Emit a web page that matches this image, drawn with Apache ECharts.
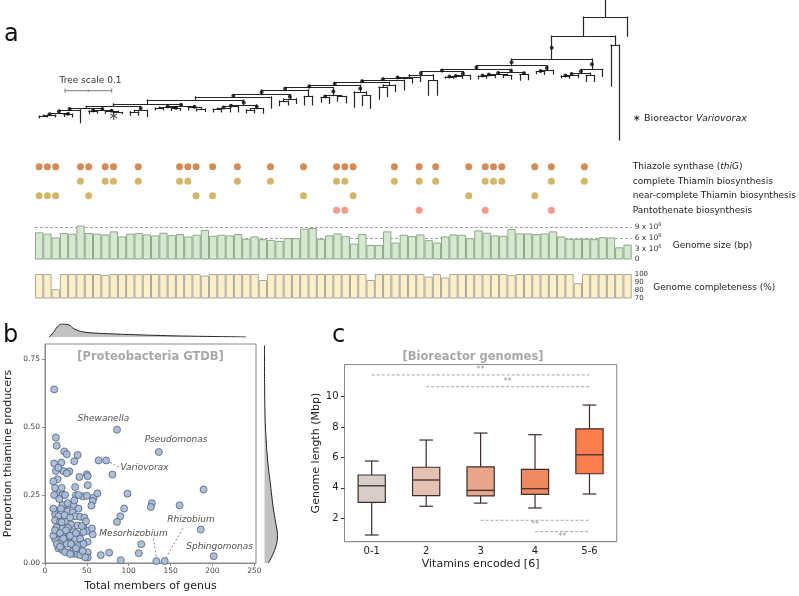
<!DOCTYPE html>
<html>
<head>
<meta charset="utf-8">
<script src="https://cdn.jsdelivr.net/npm/echarts@6/dist/echarts.min.js"></script>
<style>
  html, body { margin: 0; padding: 0; background: #fff; }
  #chart { width: 799px; height: 596px; }
</style>
</head>
<body>
<div id="chart"></div>
<script>
// ---- panel a: tree, node = [height, supported, ...children], leaf = tip height
const cladeBase = [0.206, 1, [0.210, 1, [0.212, 0, 0.216, 0.214], 0.214], [0.208, 1, 0.213, 0.214]];
const cladeStar = [0.199, 1, [0.201, 1, 0.207, 0.206], [0.202, 1, 0.206, [0.204, 0, 0.207, 0.207]]];
const clade14 = [0.190, 1, [0.193, 1, [0.195, 0, 0.199, 0.199], [0.196, 1, 0.200, 0.200]], [0.194, 1, 0.199, [0.197, 0, 0.201, 0.202]]];
const clade21 = [0.188, 1, [0.192, 1, [0.195, 1, [0.197, 0, 0.203, 0.203], 0.203], 0.203], [0.196, 1, [0.199, 0, 0.205, 0.205], 0.206]];
const spineLow = [0.178, 0, [0.186, 0, [0.191, 0, [0.195, 0, [0.199, 1, cladeBase, 0.226], cladeStar],
  [0.200, 1, [0.203, 0, 0.210, 0.210], 0.213]], clade14], clade21];
const spineMid = [0.140, 1, [0.146, 1, [0.151, 1, [0.156, 1, [0.166, 1, [0.171, 1, spineLow, 0.195],
  [0.175, 1, [0.180, 0, 0.190, 0.188], 0.185]], [0.170, 0, 0.188, 0.188]],
  [0.168, 1, [0.172, 1, 0.182, 0.185], [0.170, 0, 0.180, 0.184]]],
  [0.160, 1, 0.193, [0.168, 0, 0.190, 0.195]]], [0.146, 0, [0.150, 0, 0.176, 0.170], 0.160]];
const spineHigh = [0.117, 1, [0.124, 1, [0.128, 0, [0.131, 1, [0.135, 1, spineMid, 0.156], 0.141], 0.138],
  [0.136, 0, 0.167, 0.167]], [0.125, 1, [0.127, 1, [0.128, 1, 0.131, 0.131], 0.131], 0.133]];
const cladeH = [0.118, 1, [0.122, 1, [0.124, 1, [0.126, 1, 0.132, 0.131], 0.130], [0.125, 0, 0.129, 0.133]], [0.123, 1, 0.135, 0.134]];
const cladeE = [0.112, 1, [0.120, 1, [0.124, 1, [0.126, 1, 0.130, 0.131], 0.130], [0.125, 0, 0.138, 0.138]], 0.127];
const tree = [0, 0, [0.041, 0, [0.090, 1, [0.104, 1, [0.112, 1, spineHigh, cladeH],
  [0.114, 1, [0.117, 1, 0.121, 0.123], 0.122]], cladeE], [0.060, 0, 0.148, 0.263]], 0.041];
const bioreactorLeaf = 9;

// ---- panel a: traits per genome column
const traitRows = ['Thiazole synthase ({i|thiG})', 'complete Thiamin biosynthesis',
  'near-complete Thiamin biosynthesis', 'Pantothenate biosynthesis'];
const thiG = [0,1,2,5,6,8,9,12,17,18,19,21,24,28,32,36,37,38,43,46,48,52,54,55,56,60,62,66];
const thiaminComplete = [5,8,9,12,17,18,24,28,36,37,43,46,48,54,55,56,62,66];
const thiaminNear = [0,1,2,6,19,21,32,38,52,60];
const pantothenate = [36,37,46,54,62];
const genomeSizeMbp = [7.58,7.2,6.16,7.39,7.2,9.47,7.39,7.2,7.0,7.86,6.44,7.2,7.39,7.0,6.72,7.48,6.82,7.1,6.44,6.91,
  8.24,6.63,6.91,6.72,7.1,5.78,6.44,5.68,5.49,5.21,5.97,5.97,8.62,8.81,5.78,6.72,7.29,6.53,4.45,7.1,
  4.07,4.07,7.86,4.73,6.91,6.53,7.0,5.4,4.73,6.44,7.0,6.91,5.97,8.14,7.48,6.72,6.63,8.52,7.29,7.29,
  7.1,7.29,7.86,6.44,5.78,5.78,5.78,5.68,6.25,6.16,3.41,4.17];
const completeness = [100,100,81,100,100,100,100,100,99,100, 100,100,100,100,100,100,100,100,100,100,
  98,100,100,100,100,100,100,92.5,100,100, 100,100,100,100,100,100,100,100,100,100,
  92.5,100,100,100,100,100,100,96.8,100,95.6, 100,100,100,100,100,100,100,98.5,100,100,
  100,100,100,100,100,88.5,100,100,100,100, 100,100];

// ---- panel b
const genusPoints = [
  [11,0.638],[86,0.49],[136,0.408],[13,0.461],[14,0.431],[23,0.41],[26,0.40],[39,0.397],
  [35,0.374],[64,0.377],[73,0.377],[11,0.366],[19.5,0.369],[13,0.338],[22,0.338],[29,0.337],
  [80.5,0.325],[41,0.316],[50,0.326],[51,0.319],[15,0.308],[12,0.276],[20,0.276],[36,0.279],
  [51,0.286],[14,0.251],[21,0.251],[37,0.249],[45,0.245],[50,0.247],[58,0.24],[62.6,0.256],
  [98.5,0.255],[57,0.228],[55.4,0.211],[21,0.213],[28,0.213],[34,0.214],[13,0.191],[19,0.2],
  [27,0.19],[33,0.186],[12,0.18],[16,0.172],[23.5,0.176],[36,0.172],[42,0.17],[47,0.167],
  [94.5,0.2],[90,0.172],[86,0.151],[12,0.157],[18,0.152],[25.5,0.152],[31,0.142],[39,0.138],
  [46,0.132],[51,0.118],[57,0.105],[56,0.127],[13.6,0.13],[21,0.127],[27.5,0.129],[34,0.114],
  [41,0.105],[46,0.114],[15,0.108],[21,0.1],[29,0.096],[35.5,0.091],[42,0.089],[51,0.078],
  [43.5,0.067],[12,0.087],[17.5,0.074],[26,0.071],[33,0.064],[39.5,0.063],[16,0.054],[21,0.047],
  [28,0.039],[34,0.034],[39,0.032],[42,0.029],[51,0.039],[51,0.02],[66.6,0.029],[76.6,0.038],
  [90.5,0.01],[112,0.036],[115,0.069],[127.6,0.22],[126.4,0.206],[160.7,0.212],[189.4,0.27],
  [186,0.123],[201.4,0.025],[133,0.007],[143,0.007],
  [10,0.1],[10,0.2],[11,0.25],[10,0.3],[12,0.12],[14,0.07],[18,0.11],[24,0.04],[30,0.033],
  [25,0.12],[30,0.167],[20,0.15],[17,0.235],[24,0.25],[16,0.35],[26,0.33],[18,0.06],[22,0.09],
  [31,0.07],[37,0.054],[45,0.044],[48,0.021],[27,0.22],[40,0.25],[30,0.1],[37,0.11],[44,0.136],
  [49,0.153],[40,0.2],[35,0.23],[46,0.07]
];
const genusLabels = [['Shewanella', 69.7, 0.532], ['Pseudomonas', 156.5, 0.452], ['Variovorax', 118.9, 0.35],
  ['Rhizobium', 174.4, 0.158], ['Mesorhizobium', 105.7, 0.109], ['Sphingomonas', 208.5, 0.06]];
const labelLeaders = [[[77.7, 0.37], [89.7, 0.351]], [[129.5, 0.09], [133.5, 0.012]], [[164.6, 0.127], [143.4, 0.013]]];
const sizeDensity = [[5,0],[10,0.35],[15,0.8],[20,1.0],[28,0.95],[35,0.62],[45,0.4],[60,0.3],[80,0.24],
  [100,0.19],[130,0.13],[160,0.08],[200,0.04],[240,0.0]];
const proportionSteps = ['0.00','0.05','0.10','0.15','0.20','0.25','0.30','0.35','0.40','0.45','0.50',
  '0.55','0.60','0.65','0.70','0.75','0.80'];
const proportionDensity = [0.3,0.8,1.0,0.85,0.68,0.55,0.43,0.3,0.2,0.13,0.07,0.04,0.02,0.01,0,0,0];

// ---- panel c
const vitaminGroups = ['0-1', '2', '3', '4', '5-6'];
const genomeLengthBoxes = [ // low, q1, median, q3, high
  [0.9, 3.05, 4.14, 4.85, 5.77],
  [2.79, 3.49, 4.52, 5.36, 7.15],
  [3.0, 3.47, 3.84, 5.38, 7.61],
  [2.68, 3.58, 3.95, 5.22, 7.5],
  [3.6, 4.93, 6.18, 7.89, 9.45]
];
const boxColors = ['#d9cdc9', '#e5c1b4', '#e8a68d', '#ef8961', '#fc7e4d'];
const significance = [[0, 4, 11.43, 1], [1, 4, 10.66, 1], [2, 4, 1.87, -1], [3, 4, 1.12, -1]];

// tree layout: leaves take columns in order, parents sit between first and last child
const treeSegments = [], treeNodeDots = [], tipDepths = [];
let nextLeaf = 0;
function placeNode(node, parentDepth) {
  if (typeof node === 'number') {
    const x = nextLeaf++;
    tipDepths[x] = node;
    treeSegments.push({coords: [[x, parentDepth], [x, node]]});
    return x;
  }
  const [depth, supported, ...kids] = node;
  const xs = kids.map(k => placeNode(k, depth));
  const x = (xs[0] + xs[xs.length - 1]) / 2;
  treeSegments.push({coords: [[xs[0], depth], [xs[xs.length - 1], depth]]});
  treeSegments.push({coords: [[x, parentDepth], [x, depth]]});
  if (supported) treeNodeDots.push([x, (parentDepth + depth) / 2]);
  return x;
}
placeNode(tree, -0.035);

const columns = genomeSizeMbp.map((_, i) => String(i));
const FONT = 'DejaVu Sans';
const colW = 596.7;

function traitSeries(cols, row, color) {
  return {type: 'scatter', xAxisIndex: 1, yAxisIndex: 1, symbolSize: 7, silent: true,
    itemStyle: {color: color}, data: cols.map(c => [c, row])};
}
function hiddenValue(grid, min, max, inverse) {
  return {gridIndex: grid, type: 'value', min: min, max: max, inverse: !!inverse, show: false};
}

const chart = echarts.init(document.getElementById('chart'), null, {renderer: 'canvas'});
chart.setOption({
  animation: false,
  textStyle: {fontFamily: FONT},
  grid: [
    {left: 35, top: 0.7, width: colW, height: 147.1},
    {left: 35, top: 159.5, width: colW, height: 58},
    {left: 35, top: 225.5, width: colW, height: 34},
    {left: 35, top: 274, width: colW, height: 24},
    {left: 45, top: 344, width: 211, height: 219, show: true, borderColor: '#8a8a8a', borderWidth: 1},
    {left: 45, top: 324, width: 211, height: 13},
    {left: 264.5, top: 345.4, width: 13, height: 217.6},
    {left: 344.5, top: 364.5, width: 272.2, height: 177.2, show: true, borderColor: '#8a8a8a', borderWidth: 1}
  ],
  xAxis: [
    hiddenValue(0, -0.5, 71.5),
    hiddenValue(1, -0.5, 71.5),
    {gridIndex: 2, type: 'category', data: columns, show: false},
    {gridIndex: 3, type: 'category', data: columns, show: false},
    {gridIndex: 4, type: 'value', min: 0, max: 252,
      axisLine: {show: true, lineStyle: {color: '#8a8a8a'}},
      axisTick: {show: true, length: 3, customValues: [0, 50, 100, 150, 200, 250], lineStyle: {color: '#8a8a8a'}},
      axisLabel: {customValues: [0, 50, 100, 150, 200, 250], fontSize: 7.5, color: '#444', margin: 4},
      splitLine: {show: false},
      name: 'Total members of genus', nameLocation: 'middle', nameGap: 18,
      nameTextStyle: {fontSize: 11, color: '#222'}},
    hiddenValue(5, 0, 252),
    hiddenValue(6, 0, 1),
    {gridIndex: 7, type: 'category', data: vitaminGroups,
      axisLine: {lineStyle: {color: '#8a8a8a'}},
      axisTick: {alignWithLabel: true, length: 3.5, lineStyle: {color: '#333'}},
      axisLabel: {fontSize: 10, color: '#222', margin: 5},
      name: 'Vitamins encoded [6]', nameLocation: 'middle', nameGap: 17,
      nameTextStyle: {fontSize: 11, color: '#222'}},
    hiddenValue(2, -0.5, 71.5)
  ],
  yAxis: [
    hiddenValue(0, -0.035, 0.28, true),
    {gridIndex: 1, type: 'category', data: traitRows, inverse: true, position: 'right',
      axisLine: {show: false}, axisTick: {show: false}, splitLine: {show: false},
      axisLabel: {margin: 3, fontSize: 9, color: '#222',
        rich: {i: {fontStyle: 'italic', fontSize: 9, color: '#222'}}}},
    {gridIndex: 2, type: 'value', min: 0, max: 9.5e6, interval: 3e6, position: 'right',
      axisLine: {show: false}, axisTick: {show: false}, splitLine: {show: false},
      axisLabel: {margin: 3, fontSize: 7.5, color: '#333',
        formatter: v => v % 3e6 ? '' : (v === 0 ? '0' : (v / 1e6) + ' x 10{s|6}'),
        rich: {s: {fontSize: 5, verticalAlign: 'top', color: '#333', padding: [0, 0, 5, 0]}}}},
    {gridIndex: 3, type: 'value', min: 70, max: 100, interval: 10, position: 'right',
      axisLine: {show: false}, axisTick: {show: false}, splitLine: {show: false},
      axisLabel: {margin: 3, fontSize: 7, color: '#333'}},
    {gridIndex: 4, type: 'value', min: 0, max: 0.805,
      axisLine: {show: true, lineStyle: {color: '#8a8a8a'}},
      axisTick: {show: true, length: 3, customValues: [0, 0.25, 0.5, 0.75], lineStyle: {color: '#8a8a8a'}},
      axisLabel: {customValues: [0, 0.25, 0.5, 0.75], fontSize: 7.5, color: '#444', margin: 5,
        formatter: v => v.toFixed(2)},
      splitLine: {show: false},
      name: 'Proportion thiamine producers', nameLocation: 'middle', nameGap: 31,
      nameTextStyle: {fontSize: 11, color: '#222'}},
    hiddenValue(5, 0, 1),
    {gridIndex: 6, type: 'category', data: proportionSteps, boundaryGap: false, show: false},
    {gridIndex: 7, type: 'value', min: 0.46, max: 12.12,
      axisLine: {show: true, lineStyle: {color: '#8a8a8a'}},
      axisTick: {show: true, length: 3.5, customValues: [2, 4, 6, 8, 10], lineStyle: {color: '#333'}},
      axisLabel: {customValues: [2, 4, 6, 8, 10], fontSize: 10, color: '#222', margin: 6},
      splitLine: {show: false},
      name: 'Genome length (Mbp)', nameLocation: 'middle', nameGap: 20,
      nameTextStyle: {fontSize: 11, color: '#222'}}
  ],
  series: [
    {type: 'lines', coordinateSystem: 'cartesian2d', xAxisIndex: 0, yAxisIndex: 0, silent: true,
      lineStyle: {color: '#262626', width: 1.2, opacity: 1, cap: 'square'}, data: treeSegments},
    {type: 'scatter', xAxisIndex: 0, yAxisIndex: 0, symbolSize: 4, silent: true,
      itemStyle: {color: '#111'}, data: treeNodeDots},
    {type: 'scatter', xAxisIndex: 0, yAxisIndex: 0, symbolSize: 1, silent: true,
      itemStyle: {color: 'rgba(0,0,0,0)'},
      label: {show: true, position: 'inside', formatter: '\u2217', fontSize: 13, color: '#222'},
      data: [[bioreactorLeaf, tipDepths[bioreactorLeaf] + 0.007]]},
    traitSeries(thiG, 0, '#c96e2c'),
    traitSeries(thiaminComplete, 1, '#c9a443'),
    traitSeries(thiaminNear, 2, '#c9a443'),
    traitSeries(pantothenate, 3, '#f47f73'),
    {type: 'line', xAxisIndex: 8, yAxisIndex: 2, data: [], silent: true,
      markLine: {silent: true, symbol: 'none', label: {show: false},
        lineStyle: {color: '#999', type: [3, 2], width: 0.9},
        data: [{yAxis: 6e6}, {yAxis: 9e6}]}},
    {type: 'bar', xAxisIndex: 2, yAxisIndex: 2, barCategoryGap: '0%', z: 10, silent: true,
      itemStyle: {color: '#d5e8d0', borderColor: '#8fa78a', borderWidth: 1},
      data: genomeSizeMbp.map(v => v * 1e6)},
    {type: 'bar', xAxisIndex: 3, yAxisIndex: 3, barCategoryGap: '0%', z: 10, silent: true,
      itemStyle: {color: '#fdf0c9', borderColor: '#aca79c', borderWidth: 1},
      data: completeness},
    {type: 'line', xAxisIndex: 5, yAxisIndex: 5, smooth: 0.4, symbol: 'none', silent: true,
      lineStyle: {color: '#222', width: 1}, areaStyle: {color: '#c2c2c2', opacity: 1},
      data: sizeDensity},
    {type: 'line', xAxisIndex: 6, yAxisIndex: 6, smooth: 0.4, symbol: 'none', silent: true,
      lineStyle: {color: '#222', width: 1}, areaStyle: {color: '#c2c2c2', opacity: 1},
      data: proportionDensity},
    {type: 'scatter', xAxisIndex: 4, yAxisIndex: 4, symbolSize: 7, silent: true,
      itemStyle: {color: '#a8bddb', borderColor: '#4d596b', borderWidth: 0.8, opacity: 0.95},
      data: genusPoints},
    {type: 'lines', coordinateSystem: 'cartesian2d', xAxisIndex: 4, yAxisIndex: 4, silent: true,
      lineStyle: {color: '#666', width: 0.8, type: [2, 2], opacity: 1},
      data: labelLeaders.map(c => ({coords: c}))},
    {type: 'scatter', xAxisIndex: 4, yAxisIndex: 4, symbolSize: 1, silent: true,
      itemStyle: {color: 'rgba(0,0,0,0)'},
      label: {show: true, position: 'inside', formatter: '{b}', fontSize: 9, fontStyle: 'italic', color: '#222'},
      data: genusLabels.map(([n, x, y]) => ({name: n, value: [x, y]}))},
    {type: 'custom', xAxisIndex: 7, yAxisIndex: 7, silent: true,
      data: genomeLengthBoxes.map((b, i) => [i].concat(b)),
      encode: {x: 0, y: [1, 2, 3, 4, 5]},
      renderItem: function (params, api) {
        const i = api.value(0);
        const y = v => api.coord([i, v])[1];
        const x0 = api.coord([i, 0])[0];
        const bw = api.size([1, 0])[0] * 0.5;
        const cap = bw * 0.5;
        const lo = api.value(1), q1 = api.value(2), med = api.value(3), q3 = api.value(4), hi = api.value(5);
        const st = {stroke: '#3b2e2b', lineWidth: 1.2};
        return {type: 'group', children: [
          {type: 'line', shape: {x1: x0, y1: y(hi), x2: x0, y2: y(q3)}, style: st},
          {type: 'line', shape: {x1: x0, y1: y(q1), x2: x0, y2: y(lo)}, style: st},
          {type: 'line', shape: {x1: x0 - cap / 2, y1: y(hi), x2: x0 + cap / 2, y2: y(hi)}, style: st},
          {type: 'line', shape: {x1: x0 - cap / 2, y1: y(lo), x2: x0 + cap / 2, y2: y(lo)}, style: st},
          {type: 'rect', shape: {x: x0 - bw / 2, y: y(q3), width: bw, height: y(q1) - y(q3)},
            style: {fill: boxColors[i], stroke: '#3b2e2b', lineWidth: 1.2}},
          {type: 'line', shape: {x1: x0 - bw / 2, y1: y(med), x2: x0 + bw / 2, y2: y(med)},
            style: {stroke: '#4a3531', lineWidth: 1.4}}
        ]};
      }},
    {type: 'custom', xAxisIndex: 7, yAxisIndex: 7, silent: true,
      data: significance, encode: {x: [0, 1], y: 2},
      renderItem: function (params, api) {
        const a = api.coord([api.value(0), api.value(2)]);
        const b = api.coord([api.value(1), api.value(2)]);
        const side = api.value(3);
        return {type: 'group', children: [
          {type: 'line', shape: {x1: a[0], y1: a[1], x2: b[0], y2: b[1]},
            style: {stroke: '#9a9a9a', lineWidth: 0.9, lineDash: [3, 2]}},
          {type: 'text', x: (a[0] + b[0]) / 2, y: a[1] - side * 5,
            style: {text: '**', fill: '#999', fontSize: 8, fontFamily: FONT, align: 'center', verticalAlign: 'middle'}}
        ]};
      }}
  ],
  graphic: [
    {type: 'text', x: 4, y: 35, style: {text: 'a', fontSize: 24, fontFamily: FONT, fill: '#111', verticalAlign: 'middle'}},
    {type: 'text', x: 3, y: 336, style: {text: 'b', fontSize: 24, fontFamily: FONT, fill: '#111', verticalAlign: 'middle'}},
    {type: 'text', x: 332, y: 336, style: {text: 'c', fontSize: 24, fontFamily: FONT, fill: '#111', verticalAlign: 'middle'}},
    {type: 'text', x: 59.5, y: 81, style: {text: 'Tree scale 0.1', fontSize: 9, fontFamily: FONT, fill: '#333', verticalAlign: 'middle'}},
    {type: 'line', shape: {x1: 65, y1: 90.7, x2: 111.7, y2: 90.7}, style: {stroke: '#777', lineWidth: 1}},
    {type: 'line', shape: {x1: 65, y1: 88.5, x2: 65, y2: 92.7}, style: {stroke: '#777', lineWidth: 1}},
    {type: 'line', shape: {x1: 88.3, y1: 89.5, x2: 88.3, y2: 91.7}, style: {stroke: '#777', lineWidth: 1}},
    {type: 'line', shape: {x1: 111.7, y1: 88.5, x2: 111.7, y2: 92.7}, style: {stroke: '#777', lineWidth: 1}},
    {type: 'text', x: 633, y: 119, style: {text: '\u2217 Bioreactor {i|Variovorax}', fontSize: 9.5, fontFamily: FONT,
      fill: '#222', verticalAlign: 'middle', rich: {i: {fontStyle: 'italic', fontSize: 9.5, fontFamily: FONT, fill: '#222'}}}},
    {type: 'text', x: 672.7, y: 245.7, style: {text: 'Genome size (bp)', fontSize: 9, fontFamily: FONT, fill: '#222', verticalAlign: 'middle'}},
    {type: 'text', x: 653.3, y: 287.7, style: {text: 'Genome completeness (%)', fontSize: 9, fontFamily: FONT, fill: '#222', verticalAlign: 'middle'}},
    {type: 'text', x: 150.5, y: 357.3, style: {text: '[Proteobacteria GTDB]', fontSize: 11.5, fontWeight: 'bold', fontFamily: FONT,
      fill: '#a8a8a8', align: 'center', verticalAlign: 'middle'}},
    {type: 'text', x: 473, y: 356.7, style: {text: '[Bioreactor genomes]', fontSize: 11.5, fontWeight: 'bold', fontFamily: FONT,
      fill: '#a8a8a8', align: 'center', verticalAlign: 'middle'}}
  ]
});
</script>
</body>
</html>
